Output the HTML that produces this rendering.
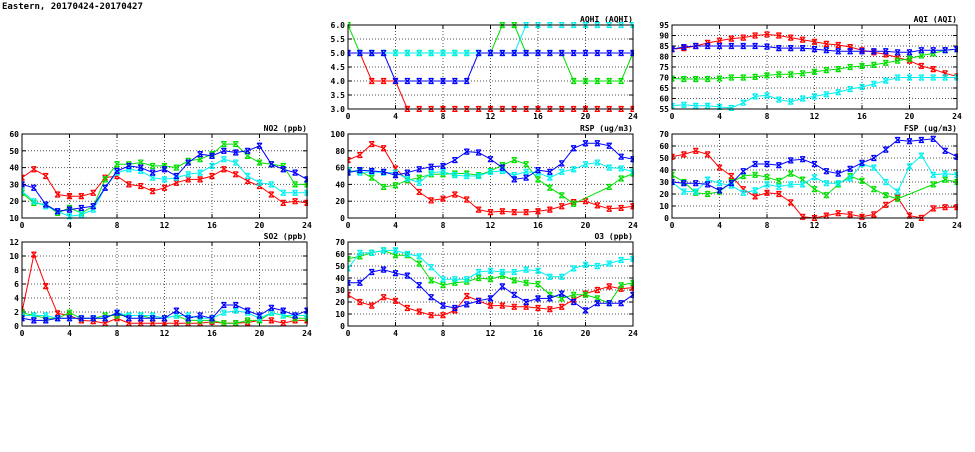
<!DOCTYPE html>
<html><head><meta charset="utf-8"><style>
body{margin:0;background:#fff;width:975px;height:447px;overflow:hidden}
svg text{font-family:"DejaVu Sans Mono","Liberation Mono",monospace;font-weight:bold;font-size:8px;fill:#000}
</style></head><body>
<svg id="s" width="975" height="447" xmlns="http://www.w3.org/2000/svg">
<text x="2" y="9" style="font-size:9px">Eastern, 20170424-20170427</text>
</svg>
<script>
const N=null;
const P=[
{t:"AQHI (AQHI)",x:348,y:25,min:3,max:6,step:0.5,dec:1,s:[
[5,5,4,4,4,3,3,3,3,3,3,3,3,3,3,3,3,3,3,3,3,3,3,3,3],
[6,5,5,5,5,5,5,5,5,5,5,5,5,6,6,5,5,5,5,4,4,4,4,4,5],
[5,5,5,5,4,4,4,4,4,4,4,5,5,5,5,5,5,5,5,5,5,5,5,5,5],
[5,5,5,5,5,5,5,5,5,5,5,5,5,5,5,6,6,6,6,6,6,6,6,6,6]]},
{t:"AQI (AQI)",x:672,y:25,min:55,max:95,step:5,dec:0,s:[
[83.5,84,85,86.5,87.5,88.5,89,90,90.5,90,89,88,87,86,85.5,84.5,83,82,81,79.5,78,75.5,74,72,70.5],
[69.5,69.3,69.3,69.3,69.5,70,70,70.3,71,71.5,71.5,72,72.7,73.5,74,75,75.5,76,77,78,79,80.5,81.5,83,83.5],
[83.5,84.5,85,85,85,85,85,85,84.7,84,84,84,83.5,83,82.5,82.5,82.5,82.5,82.5,82,82,83,83,83,83.5],
[56.5,57,56.5,56.5,56,55.5,58,61,61.5,59.5,58.5,60,61,62,63,64.5,65.5,67,68.5,70,70,70,70,70,70]]},
{t:"NO2 (ppb)",x:22,y:134,min:10,max:60,step:10,dec:0,s:[
[34,39,35,24,23,23,25,34,35,30,29,26,28,31,33,33,35,39,36,32,29,24,19,20,19],
[25,19,18,13,16,13,17,33,42,42,43,41,41,40,44,45,48,54,54,47,43,42,41,30,30],
[30,28,18,14,15,16,17,28,38,41,40,37,39,35,43,48,47,50,49,50,53,42,39,37,33],
[26,20,17,14,11,12,15,28,37,39,38,34,33,34,36,37,41,45,43,35,31,30,25,25,25]]},
{t:"RSP (ug/m3)",x:348,y:134,min:0,max:100,step:20,dec:0,s:[
[69,75,88,83,59,45,31,21,23,28,22,10,7,8,7,7,8,10,14,19,20,15,11,12,14],
[56,56,48,37,39,45,48,52,52,53,53,51,56,63,69,64,46,36,27,17,N,N,37,47,53],
[54,57,56,55,51,54,58,61,62,69,79,78,70,60,46,48,57,55,65,83,89,89,86,73,70],
[57,54,55,54,54,47,42,54,55,51,50,50,55,56,51,55,54,48,55,58,64,66,60,59,55]]},
{t:"FSP (ug/m3)",x:672,y:134,min:0,max:70,step:10,dec:0,s:[
[51,53,56,53,42,35,24,18,21,20,13,1,0,2,4,3,1,3,11,17,2,0,8,9,9],
[36,30,21,20,22,30,35,36,34,31,37,32,24,19,28,35,31,24,19,16,N,N,28,32,30],
[30,29,29,28,23,29,39,45,45,44,48,49,45,39,37,41,46,50,57,65,64,65,66,56,51],
[30,22,22,32,29,27,21,23,28,26,28,28,34,29,29,33,45,42,30,22,43,52,36,37,36]]},
{t:"SO2 (ppb)",x:22,y:242,min:0,max:12,step:2,dec:0,s:[
[2,10.2,5.7,1.8,1.5,0.8,0.7,0.4,1.1,0.4,0.4,0.4,0.4,0.4,0.4,0.4,0.6,0.4,0.4,0.5,0.8,0.8,0.4,0.8,0.8],
[1.9,1.5,1.1,1.1,1.9,1.1,1.1,1.5,1.5,1.5,1.5,1.1,1.1,1.5,0.8,0.8,0.8,0.4,0.4,0.8,0.8,1.9,1.5,1.1,1.1],
[1.1,0.8,0.8,1.1,1.1,1.1,1.1,1.1,1.9,1.1,1.1,1.1,1.1,2.2,1.1,1.5,1.1,3,3,2.2,1.5,2.6,2.2,1.5,2.2],
[1.5,1.5,1.5,1.1,1.1,1.1,1.1,1.1,1.9,1.5,1.5,1.5,1.1,1.5,1.5,1.1,1.1,1.9,2.2,1.9,1.1,1.9,1.5,1.5,1.5]]},
{t:"O3 (ppb)",x:348,y:242,min:0,max:70,step:10,dec:0,s:[
[26,20,17,24,21,15,12,9,9,13,25,21,17,17,16,16,15,14,16,22,27,30,33,31,32],
[56,58,61,63,59,59,52,38,34,36,37,40,39,42,38,36,35,26,23,26,26,23,19,34,36],
[36,36,45,47,44,42,34,24,17,15,18,21,23,33,26,20,23,23,27,20,13,19,19,19,26],
[48,61,61,63,63,60,58,49,39,39,39,45,46,45,45,47,46,41,41,48,51,50,52,55,56]]}
];
const C=["#ff0000","#00e000","#0000ff","#00f0f0"];
const order=[0,1,3,2];
let h="";const W=285,H=84;
for(const p of P){
 const X=i=>p.x+i*W/24, Y=v=>p.y+H-(v-p.min)/(p.max-p.min)*H;
 for(let v=p.min+p.step;v<p.max-1e-9;v+=p.step)h+=`<line x1="${p.x}" x2="${p.x+W}" y1="${Y(v)}" y2="${Y(v)}" stroke="#555" stroke-dasharray="1,2"/>`;
 for(let i=4;i<24;i+=4)h+=`<line x1="${X(i)}" x2="${X(i)}" y1="${p.y}" y2="${p.y+H}" stroke="#555" stroke-dasharray="1,2"/>`;
 for(let v=p.min;v<=p.max+1e-9;v+=p.step){h+=`<text x="${p.x-3}" y="${Y(v)+3}" text-anchor="end">${v.toFixed(p.dec)}</text>`;
  h+=`<line x1="${p.x}" x2="${p.x+4}" y1="${Y(v)}" y2="${Y(v)}" stroke="#000"/><line x1="${p.x+W-4}" x2="${p.x+W}" y1="${Y(v)}" y2="${Y(v)}" stroke="#000"/>`;}
 for(let i=0;i<=24;i+=4){h+=`<text x="${X(i)}" y="${p.y+H+10}" text-anchor="middle">${i}</text>`;
  h+=`<line x1="${X(i)}" x2="${X(i)}" y1="${p.y+H}" y2="${p.y+H-4}" stroke="#000"/><line x1="${X(i)}" x2="${X(i)}" y1="${p.y}" y2="${p.y+4}" stroke="#000"/>`;}
 h+=`<text x="${p.x+W}" y="${p.y-3}" text-anchor="end">${p.t}</text>`;
 h+=`<svg x="${p.x}" y="${p.y-3}" width="${W+1}" height="${H+6}" overflow="hidden"><g transform="translate(${-p.x},${-p.y+3})">`;
 for(const k of order){const d=p.s[k];let pts=[];
  for(let i=0;i<25;i++)if(d[i]!==N)pts.push(X(i).toFixed(1)+","+Y(Math.max(p.min,Math.min(p.max,d[i]))).toFixed(1));
  h+=`<polyline points="${pts.join(" ")}" fill="none" stroke="${C[k]}" stroke-width="1"/>`;
  for(let i=0;i<25;i++)if(d[i]!==N){const x=X(i),y=Y(Math.max(p.min,Math.min(p.max,d[i])));
   h+=`<path d="M${x-2.5},${y-2.5}L${x+2.5},${y+2.5}M${x-2.5},${y+2.5}L${x+2.5},${y-2.5}M${x-2.5},${y-2.5}H${x+2.5}M${x-2.5},${y+2.5}H${x+2.5}" stroke="${C[k]}" stroke-width="1.2" fill="none"/>`;}
 }
 h+=`</g></svg>`;
 h+=`<rect x="${p.x}" y="${p.y}" width="${W}" height="${H}" fill="none" stroke="#000" stroke-width="1"/>`;
}
document.getElementById("s").insertAdjacentHTML("beforeend",h);
</script>
</body></html>
